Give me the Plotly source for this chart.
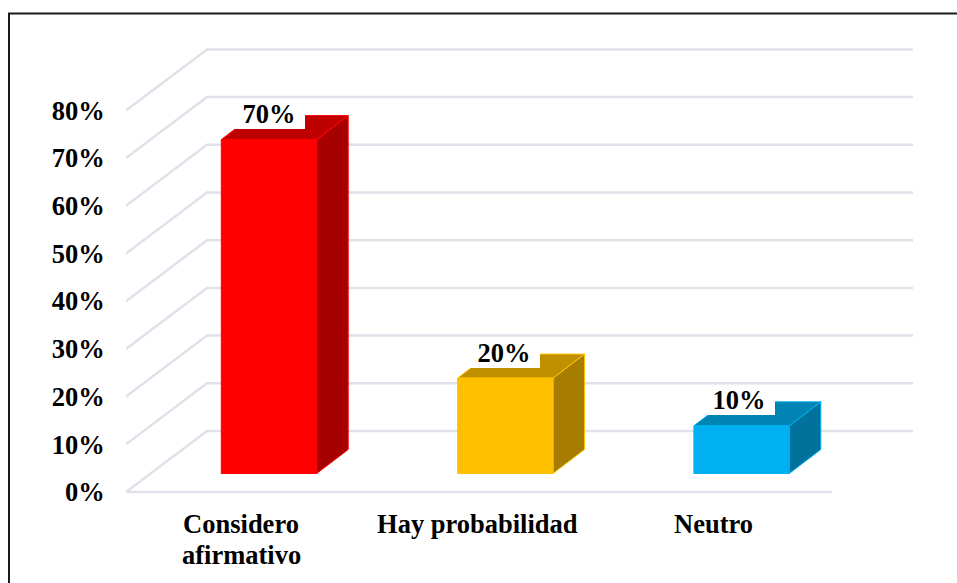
import plotly.graph_objects as go

# ---- data ----
categories = ["Considero<br>afirmativo", "Hay probabilidad", "Neutro"]
values = [70, 20, 10]
value_labels = ["70%", "20%", "10%"]
y_ticks = [0, 10, 20, 30, 40, 50, 60, 70, 80]
y_tick_labels = ["0%", "10%", "20%", "30%", "40%", "50%", "60%", "70%", "80%"]
front_colors = ["#FF0000", "#FFC000", "#00B0F0"]
side_colors = ["#A60000", "#A67D00", "#00729C"]
top_colors = ["#BF0000", "#BF9000", "#0084B4"]

# ---- layout / projection constants ----
W, H = 957, 583
L, R, T, B = 126, 44, 40, 86
FLOOR_PAD = 5         # pixels of plot area kept below the 0 line
PX_Y = 4.77           # pixels per percentage point
PX_X = 236.3          # pixels per category
X0_PX = 241           # pixel of the first category
GRID = "#DFE2E9"
FONT = "Liberation Serif"
FS = 26.5
PW, PH = W - L - R, H - T - B

xr = [(L - X0_PX) / PX_X, (W - R - X0_PX) / PX_X]
yr = [-FLOOR_PAD / PX_Y, (PH - FLOOR_PAD) / PX_Y]

wall_dx, wall_dy = 81 / PX_X, 61 / PX_Y      # oblique depth of the floor
bar_off = 28 / PX_X                           # bar centre relative to tick
half_w = 47.7 / PX_X
base = 18.5 / PX_Y                            # bar foot above front floor edge
dep_x, dep_y = 31.5 / PX_X, 24 / PX_Y         # bar depth
label_up = 25.5 / PX_Y
label_drift = 1.5                             # px per category, labels vs bars
line_gap = 31                                 # px between category label lines

fig = go.Figure()


def line(xs, ys, color=GRID, width=2.5):
    fig.add_trace(go.Scatter(x=xs, y=ys, mode="lines", hoverinfo="skip",
                             cliponaxis=False, showlegend=False,
                             line=dict(color=color, width=width)))


def poly(xs, ys, fill, edge):
    fig.add_trace(go.Scatter(x=xs, y=ys, mode="lines", fill="toself", fillcolor=fill,
                             hoverinfo="skip", cliponaxis=False, showlegend=False,
                             line=dict(color=edge, width=1)))


# walls
for v in y_ticks:
    line([xr[0], xr[0] + wall_dx, xr[1]], [v, v + wall_dy, v + wall_dy])
line([xr[0], xr[1] - wall_dx], [0, 0])

# bars
annotations = []
for i, v in enumerate(values):
    c = i + bar_off
    x0, x1 = c - half_w, c + half_w
    y0, y1 = base, base + v
    poly([x1, x1 + dep_x, x1 + dep_x, x1, x1],
         [y0, y0 + dep_y, y1 + dep_y, y1, y0], side_colors[i], front_colors[i])
    poly([x0, x0 + dep_x, x1 + dep_x, x1, x0],
         [y1, y1 + dep_y, y1 + dep_y, y1, y1], top_colors[i], front_colors[i])
    poly([x0, x1, x1, x0, x0], [y0, y0, y1, y1, y0], front_colors[i], front_colors[i])
    annotations.append(dict(x=c - i * label_drift / PX_X, y=y1 + label_up, xref="x", yref="y",
                            text=f"<b>{value_labels[i]}</b>",
                            showarrow=False, width=72, height=30, bgcolor="white",
                            borderpad=0, borderwidth=0, xanchor="center", yanchor="middle",
                            font=dict(family=FONT, size=FS, color="black")))

# first line of each category is the tick label, following lines sit below at the original spacing
first_lines = []
for i, c in enumerate(categories):
    parts = c.split("<br>")
    first_lines.append(f"<b>{parts[0]}</b>")
    for j, extra in enumerate(parts[1:], start=1):
        annotations.append(dict(x=i, y=0, xref="x", yref="y", text=f"<b>{extra}</b>",
                                showarrow=False, xanchor="center", yanchor="middle",
                                yshift=-(32 + j * line_gap),
                                font=dict(family=FONT, size=FS, color="black")))

fig.update_layout(
    width=W, height=H, autosize=False,
    margin=dict(l=L, r=R, t=T, b=B, pad=0, autoexpand=False),
    paper_bgcolor="white", plot_bgcolor="rgba(0,0,0,0)",
    showlegend=False, annotations=annotations,
    font=dict(family=FONT, size=FS, color="black"),
    xaxis=dict(range=xr, tickmode="array", tickvals=list(range(len(categories))),
               ticktext=first_lines,
               showgrid=False, zeroline=False, showline=False, automargin=False,
               ticks="outside", ticklen=3, tickcolor="rgba(0,0,0,0)", tickangle=0),
    yaxis=dict(range=yr, tickmode="array", tickvals=y_ticks,
               ticktext=[f"<b>{t}</b>" for t in y_tick_labels],
               showgrid=False, zeroline=False, showline=False, automargin=False,
               ticks="outside", ticklen=15, tickcolor="rgba(0,0,0,0)"),
    shapes=[dict(type="rect", xref="paper", yref="paper",
                 x0=(9 - L) / PW, x1=(W + 20 - L) / PW,
                 y0=-(B + 20) / PH, y1=1 + (T - 13.5) / PH,
                 line=dict(color="#1A1A1A", width=2), fillcolor="rgba(0,0,0,0)")],
)

fig.write_html("out.html", config={"displayModeBar": False},
               post_script="document.body.style.margin='0';document.body.style.overflow='hidden';")
